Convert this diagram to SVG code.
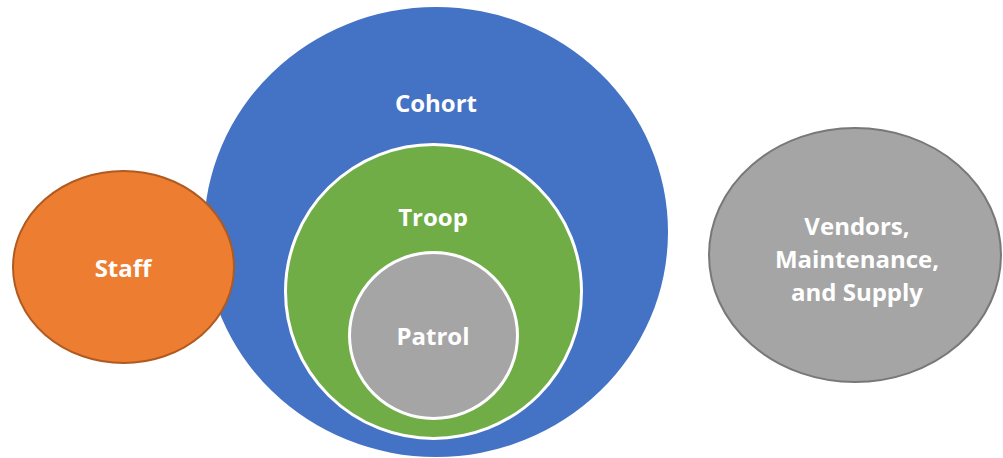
<svg xmlns="http://www.w3.org/2000/svg" width="1003" height="458" viewBox="0 0 1003 458">
<style>
text{font-family:"Open Sans","Noto Sans","Liberation Sans",sans-serif;font-weight:bold;fill:#fff;text-anchor:middle;font-size:24px}
.inner{stroke:#fff;stroke-width:3}
</style>
<rect width="1003" height="458" fill="#fff"/>
<g id="cohort">
<ellipse cx="436" cy="232" rx="232" ry="225" fill="#4472C4"/>
<text x="436" y="112">Cohort</text>
</g>
<g id="troop">
<ellipse class="inner" cx="433.5" cy="291.5" rx="148" ry="147" fill="#70AD47"/>
<text x="433" y="226">Troop</text>
</g>
<g id="patrol">
<ellipse class="inner" cx="433.5" cy="335.5" rx="84" ry="83" fill="#A5A5A5"/>
<text x="433" y="345">Patrol</text>
</g>
<g id="staff">
<ellipse cx="123.5" cy="267" rx="110.5" ry="96" fill="#ED7D31" stroke="#AE5A21" stroke-width="2"/>
<text x="123" y="277">Staff</text>
</g>
<g id="vendors">
<ellipse cx="855" cy="255" rx="146" ry="127" fill="#A5A5A5" stroke="#787878" stroke-width="2"/>
<text x="857" y="235">Vendors,</text>
<text x="857" y="268">Maintenance,</text>
<text x="857" y="301">and Supply</text>
</g>
<g id="connectors"></g>
</svg>
